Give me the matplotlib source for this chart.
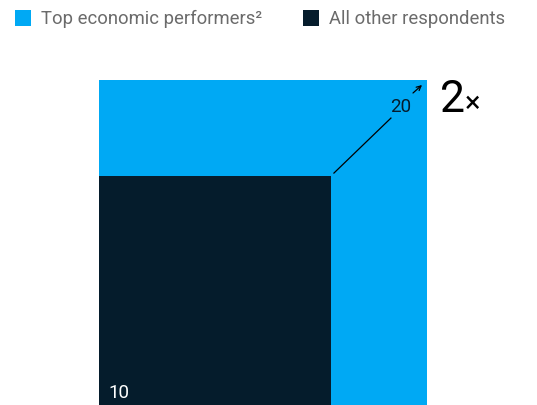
import numpy as np
import matplotlib.pyplot as plt
from matplotlib.patches import Rectangle

# values shown as nested squares (area ~ value)
groups = ["Top economic performers\u00b2", "All other respondents"]
values = [20, 10]
colors = ["#00A9F4", "#051C2C"]
multiple_label = "2"

plt.rcParams["font.family"] = ["Roboto", "DejaVu Sans"]

W, H = 537, 405
fig = plt.figure(figsize=(W / 100, H / 100), dpi=100)
ax = fig.add_axes([0, 0, 1, 1])
ax.set_axis_off()

# pixel scale: big square side = 328 px
scale = 328 / np.sqrt(values[0])
x0_px, y0_px = 99, -3
ax.set_xlim(-x0_px / scale, (W - x0_px) / scale)
ax.set_ylim(-y0_px / scale, (H - y0_px) / scale)

sides = [np.sqrt(v) for v in values]
for side, c in zip(sides, colors):
    ax.add_patch(Rectangle((0, 0), side, side, color=c, lw=0))

big, small = sides
# label small square
ax.text(9 / scale, 10 / scale, str(values[1]), fontsize=13.5, color="white",
        ha="left", va="baseline")
# connector from small square corner up to big value
ax.plot([small + 3 / scale, small + 60 / scale],
        [small + 3 / scale, small + 58 / scale], color="black", lw=0.9)
ax.text(big - 16 / scale, big - 32 / scale, str(values[0]), fontsize=13.5,
        color="#051C2C", ha="right", va="baseline")
ax.annotate("", xy=(big - 5 / scale, big - 5 / scale),
            xytext=(big - 14 / scale, big - 13 / scale),
            arrowprops=dict(arrowstyle="->", color="black", lw=0.9,
                            shrinkA=0, shrinkB=0, mutation_scale=8))
ax.text(big + 13 / scale, big - 32 / scale, multiple_label, fontsize=32,
        color="black", ha="left", va="baseline")
ax.text(big + 38 / scale, big - 32 / scale, "\u00d7", fontsize=21,
        color="black", ha="left", va="baseline")

# legend drawn in figure pixels
leg_x = [15, 303]
for lx, c, g in zip(leg_x, colors, groups):
    fig.patches.append(Rectangle((lx, H - 26), 16, 16, color=c, lw=0,
                                 transform=None, figure=fig))
    fig.text((lx + 26) / W, (H - 19) / H, g, fontsize=13.3, color="#6b6b6b",
             ha="left", va="center")

fig.savefig("out.png", dpi=100)
